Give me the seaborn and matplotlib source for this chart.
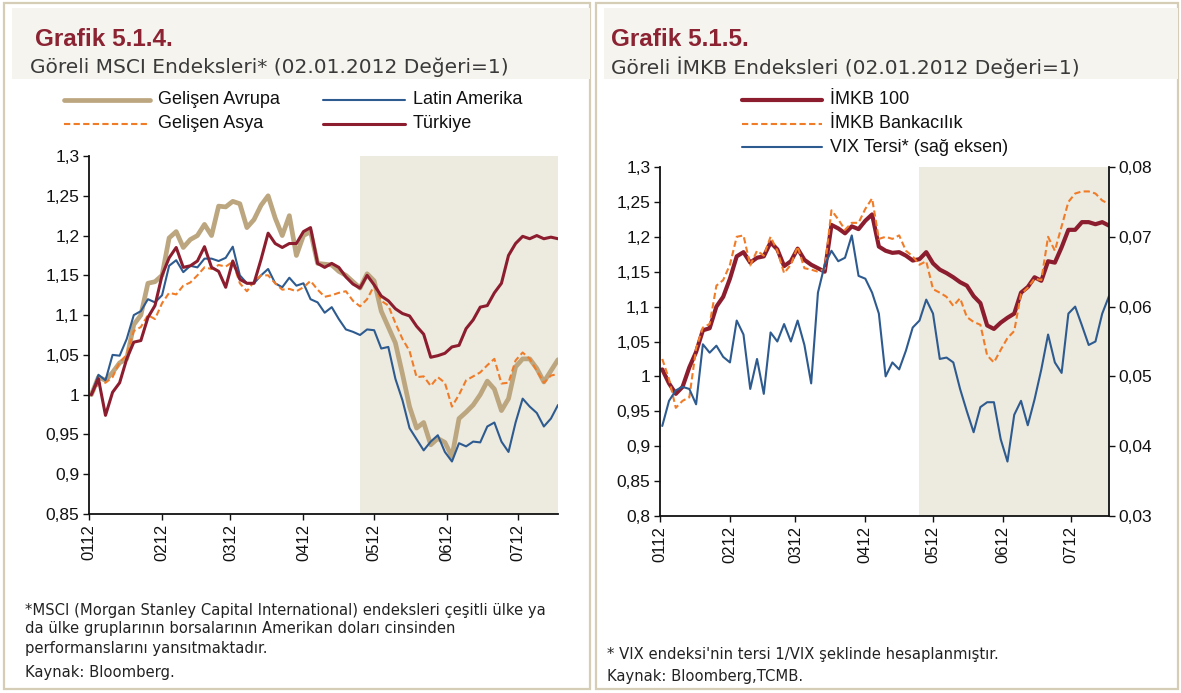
import pandas as pd
import matplotlib
matplotlib.use("Agg")
import matplotlib.pyplot as plt
import matplotlib.dates as mdates
from matplotlib.ticker import FuncFormatter, MultipleLocator
from matplotlib.patches import Rectangle
from matplotlib.lines import Line2D
import seaborn as sns

# 3-day sampling, 02.01.2012 - 18.07.2012
dates = pd.date_range("2012-01-02", periods=67, freq="3D")

# Grafik 5.1.4 - MSCI
avrupa = [1.000, 1.022, 1.018, 1.028, 1.040, 1.045, 1.088, 1.100, 1.140, 1.142,
          1.150, 1.197, 1.205, 1.185, 1.195, 1.200, 1.214, 1.200, 1.237, 1.236,
          1.243, 1.240, 1.210, 1.220, 1.238, 1.250, 1.222, 1.200, 1.225, 1.175,
          1.200, 1.205, 1.165, 1.164, 1.163, 1.155, 1.150, 1.142, 1.134, 1.152,
          1.143, 1.105, 1.085, 1.065, 1.026, 0.985, 0.958, 0.965, 0.937, 0.945,
          0.940, 0.922, 0.970, 0.978, 0.987, 1.000, 1.017, 1.007, 0.980, 0.995,
          1.035, 1.045, 1.045, 1.033, 1.016, 1.030, 1.044]
asya = [1.000, 1.014, 1.015, 1.022, 1.041, 1.050, 1.080, 1.085, 1.100, 1.095,
        1.115, 1.128, 1.126, 1.137, 1.141, 1.150, 1.160, 1.158, 1.163, 1.161,
        1.167, 1.140, 1.130, 1.142, 1.150, 1.150, 1.140, 1.132, 1.133, 1.130,
        1.135, 1.143, 1.132, 1.123, 1.125, 1.128, 1.130, 1.118, 1.111, 1.120,
        1.137, 1.118, 1.112, 1.090, 1.070, 1.055, 1.022, 1.023, 1.011, 1.022,
        1.015, 0.985, 1.000, 1.018, 1.023, 1.028, 1.037, 1.045, 1.014, 1.015,
        1.043, 1.053, 1.045, 1.030, 1.015, 1.024, 1.026]
latin = [1.000, 1.025, 1.018, 1.050, 1.049, 1.070, 1.100, 1.105, 1.120, 1.116,
         1.125, 1.162, 1.169, 1.154, 1.162, 1.160, 1.171, 1.171, 1.168, 1.172,
         1.186, 1.150, 1.140, 1.140, 1.150, 1.158, 1.140, 1.135, 1.147, 1.137,
         1.140, 1.120, 1.116, 1.103, 1.110, 1.095, 1.082, 1.079, 1.075, 1.082,
         1.081, 1.058, 1.060, 1.020, 0.993, 0.958, 0.944, 0.930, 0.941, 0.949,
         0.928, 0.916, 0.939, 0.935, 0.941, 0.940, 0.960, 0.965, 0.941, 0.928,
         0.965, 0.995, 0.985, 0.977, 0.960, 0.970, 0.987]
turkiye = [1.000, 1.020, 0.974, 1.003, 1.015, 1.045, 1.066, 1.068, 1.097, 1.112,
           1.150, 1.172, 1.185, 1.160, 1.162, 1.168, 1.186, 1.160, 1.155, 1.135,
           1.168, 1.145, 1.140, 1.140, 1.170, 1.203, 1.190, 1.185, 1.190, 1.190,
           1.205, 1.210, 1.165, 1.160, 1.165, 1.160, 1.148, 1.139, 1.134, 1.150,
           1.138, 1.124, 1.118, 1.108, 1.102, 1.099, 1.086, 1.076, 1.047, 1.049,
           1.052, 1.060, 1.062, 1.083, 1.094, 1.110, 1.112, 1.128, 1.140, 1.175,
           1.190, 1.199, 1.196, 1.200, 1.196, 1.198, 1.196]

# Grafik 5.1.5 - IMKB
imkb100 = [1.010, 0.990, 0.975, 0.985, 1.013, 1.035, 1.066, 1.069, 1.100, 1.114,
           1.140, 1.172, 1.178, 1.163, 1.170, 1.172, 1.192, 1.182, 1.158, 1.165,
           1.183, 1.167, 1.160, 1.155, 1.150, 1.217, 1.212, 1.205, 1.215, 1.211,
           1.223, 1.232, 1.186, 1.180, 1.177, 1.178, 1.173, 1.166, 1.168, 1.178,
           1.162, 1.153, 1.148, 1.142, 1.135, 1.130, 1.115, 1.105, 1.073, 1.068,
           1.077, 1.084, 1.090, 1.120, 1.128, 1.142, 1.137, 1.165, 1.163, 1.185,
           1.210, 1.210, 1.221, 1.221, 1.218, 1.221, 1.216]
bankacilik = [1.025, 0.996, 0.955, 0.965, 0.970, 1.040, 1.070, 1.075, 1.130, 1.138,
              1.160, 1.200, 1.202, 1.159, 1.180, 1.173, 1.200, 1.180, 1.148, 1.160,
              1.186, 1.155, 1.153, 1.150, 1.154, 1.238, 1.225, 1.210, 1.220, 1.220,
              1.240, 1.255, 1.197, 1.200, 1.197, 1.202, 1.180, 1.172, 1.160, 1.165,
              1.125, 1.120, 1.114, 1.101, 1.112, 1.085, 1.078, 1.074, 1.030, 1.020,
              1.038, 1.055, 1.065, 1.118, 1.127, 1.140, 1.138, 1.200, 1.180, 1.215,
              1.250, 1.262, 1.265, 1.265, 1.262, 1.252, 1.247]
vix_tersi = [0.0429, 0.0465, 0.0480, 0.0485, 0.0482, 0.0460, 0.0546, 0.0534, 0.0544, 0.0528,
             0.0520, 0.0580, 0.0560, 0.0482, 0.0525, 0.0475, 0.0563, 0.0550, 0.0575, 0.0550,
             0.0580, 0.0545, 0.0490, 0.0620, 0.0660, 0.0680, 0.0665, 0.0670, 0.0702, 0.0644,
             0.0640, 0.0620, 0.0590, 0.0500, 0.0520, 0.0510, 0.0537, 0.0570, 0.0580, 0.0610,
             0.0590, 0.0525, 0.0527, 0.0520, 0.0482, 0.0450, 0.0420, 0.0456, 0.0463, 0.0463,
             0.0410, 0.0378, 0.0445, 0.0465, 0.0430, 0.0467, 0.0510, 0.0560, 0.0520, 0.0505,
             0.0590, 0.0600, 0.0573, 0.0545, 0.0550, 0.0590, 0.0615]

shade_start = pd.Timestamp("2012-04-25")
x_start, x_end = pd.Timestamp("2012-01-01"), pd.Timestamp("2012-07-18")

msci = pd.DataFrame({"Tarih": dates, "Gelişen Avrupa": avrupa, "Gelişen Asya": asya,
                     "Latin Amerika": latin, "Türkiye": turkiye})
imkb = pd.DataFrame({"Tarih": dates, "İMKB 100": imkb100, "İMKB Bankacılık": bankacilik,
                     "VIX Tersi* (sağ eksen)": vix_tersi})

TAN, BLUE, ORANGE, RED = "#BCA67F", "#2E5B8F", "#F07C28", "#8C1D2E"
SHADE = "#EDEAE0"
DASH = (0, (3, 1.6))

sns.set_style("white")
plt.rcParams["font.family"] = ["Liberation Sans", "DejaVu Sans"]

W, H = 1181, 693
fig = plt.figure(figsize=(11.81, 6.93), dpi=100)


def fx(x):
    return x / W


def fy(y):
    return 1 - y / H


# panel frames and title bands
for x0, x1 in [(4, 590), (596, 1178)]:
    fig.add_artist(Rectangle((fx(x0), fy(689)), fx(x1 - x0), (689 - 3) / H,
                             transform=fig.transFigure, facecolor="white",
                             edgecolor="#D6CDB6", lw=1.6, zorder=0))
    fig.add_artist(Rectangle((fx(x0 + 8), fy(79)), fx(x1 - x0 - 8), 71 / H,
                             transform=fig.transFigure, facecolor="#F5F4EE",
                             edgecolor="none", zorder=0))

comma = FuncFormatter(lambda v, pos: f"{round(v, 3):g}".replace(".", ","))


def style_axis(ax):
    ax.set_xlim(x_start, x_end)
    ax.xaxis.set_major_locator(mdates.MonthLocator())
    ax.xaxis.set_major_formatter(mdates.DateFormatter("%m%y"))
    ax.yaxis.set_major_formatter(comma)
    ax.tick_params(axis="x", rotation=90, labelsize=12, length=4, width=1, pad=3,
                   direction="out", bottom=True, colors="#111111")
    ax.tick_params(axis="y", labelsize=12.5, length=4, width=1, pad=3,
                   direction="out", left=True, colors="#111111")
    ax.set_xlabel("")
    ax.set_ylabel("")
    for side in ["top", "right"]:
        ax.spines[side].set_visible(False)
    for side in ["left", "bottom"]:
        ax.spines[side].set_color("#111111")
        ax.spines[side].set_linewidth(1.3)


# ---------- left: Grafik 5.1.4 ----------
ax1 = fig.add_axes([fx(89), fy(514), fx(469), 358 / H])
ax1.axvspan(shade_start, x_end, color=SHADE, lw=0, zorder=0)
sns.lineplot(data=msci, x="Tarih", y="Gelişen Avrupa", ax=ax1, color=TAN, lw=3.4)
sns.lineplot(data=msci, x="Tarih", y="Latin Amerika", ax=ax1, color=BLUE, lw=1.5)
sns.lineplot(data=msci, x="Tarih", y="Gelişen Asya", ax=ax1, color=ORANGE, lw=1.5, linestyle=DASH)
sns.lineplot(data=msci, x="Tarih", y="Türkiye", ax=ax1, color=RED, lw=2.2)
ax1.set_ylim(0.85, 1.3)
ax1.yaxis.set_major_locator(MultipleLocator(0.05))
style_axis(ax1)

# ---------- right: Grafik 5.1.5 ----------
ax2 = fig.add_axes([fx(660), fy(516), fx(449), 349 / H])
ax2.axvspan(shade_start, x_end, color=SHADE, lw=0, zorder=0)
sns.lineplot(data=imkb, x="Tarih", y="İMKB 100", ax=ax2, color=RED, lw=3.0)
sns.lineplot(data=imkb, x="Tarih", y="İMKB Bankacılık", ax=ax2, color=ORANGE, lw=1.5, linestyle=DASH)
ax2.set_ylim(0.8, 1.3)
ax2.yaxis.set_major_locator(MultipleLocator(0.05))
style_axis(ax2)

ax3 = ax2.twinx()
sns.lineplot(data=imkb, x="Tarih", y="VIX Tersi* (sağ eksen)", ax=ax3, color=BLUE, lw=1.5)
ax3.set_ylim(0.03, 0.08)
ax3.yaxis.set_major_locator(MultipleLocator(0.01))
ax3.yaxis.set_major_formatter(comma)
ax3.set_ylabel("")
ax3.tick_params(axis="y", labelsize=12.5, length=4, width=1, pad=3, direction="out",
                right=True, colors="#111111")
for side in ["top", "left", "bottom"]:
    ax3.spines[side].set_visible(False)
ax3.spines["right"].set_color("#111111")
ax3.spines["right"].set_linewidth(1.3)
ax3.set_xlim(x_start, x_end)

# ---------- titles ----------
TITLE_RED = "#8C2333"
fig.text(fx(35), fy(39), "Grafik 5.1.4.", fontsize=17.5, fontweight="bold", color=TITLE_RED, va="center")
fig.text(fx(30), fy(67), "Göreli MSCI Endeksleri* (02.01.2012 Değeri=1)", fontsize=14.5,
         color="#3A3A3A", va="center", family=["DejaVu Sans"])
fig.text(fx(611), fy(39), "Grafik 5.1.5.", fontsize=17.5, fontweight="bold", color=TITLE_RED, va="center")
fig.text(fx(611), fy(67), "Göreli İMKB Endeksleri (02.01.2012 Değeri=1)", fontsize=14.5,
         color="#3A3A3A", va="center", family=["DejaVu Sans"])

# ---------- legends ----------
def legend_item(x0, x1, y, label, color, lw, ls="-"):
    fig.add_artist(Line2D([fx(x0), fx(x1)], [fy(y), fy(y)], transform=fig.transFigure,
                          color=color, lw=lw, linestyle=ls))
    fig.text(fx(x1 + 8), fy(y), label, fontsize=13, va="center", color="#111111")


legend_item(64, 150, 100, "Gelişen Avrupa", TAN, 3.4)
legend_item(64, 150, 124, "Gelişen Asya", ORANGE, 1.5, DASH)
legend_item(323, 405, 100, "Latin Amerika", BLUE, 1.5)
legend_item(323, 405, 124, "Türkiye", RED, 2.2)

legend_item(742, 822, 100, "İMKB 100", RED, 3.0)
legend_item(742, 822, 124, "İMKB Bankacılık", ORANGE, 1.5, DASH)
legend_item(742, 822, 147, "VIX Tersi* (sağ eksen)", BLUE, 1.5)

# ---------- footnotes ----------
note_kw = dict(fontsize=10.6, color="#222222", va="center", family=["DejaVu Sans"])
fig.text(fx(25), fy(610), "*MSCI (Morgan Stanley Capital International) endeksleri çeşitli ülke ya", **note_kw)
fig.text(fx(25), fy(629), "da ülke gruplarının borsalarının Amerikan doları cinsinden", **note_kw)
fig.text(fx(25), fy(648), "performanslarını yansıtmaktadır.", **note_kw)
fig.text(fx(25), fy(673), "Kaynak: Bloomberg.", **note_kw)
fig.text(fx(607), fy(655), "* VIX endeksi'nin tersi 1/VIX şeklinde hesaplanmıştır.", **note_kw)
fig.text(fx(607), fy(676), "Kaynak: Bloomberg,TCMB.", **note_kw)

fig.savefig("out.png", dpi=100)
